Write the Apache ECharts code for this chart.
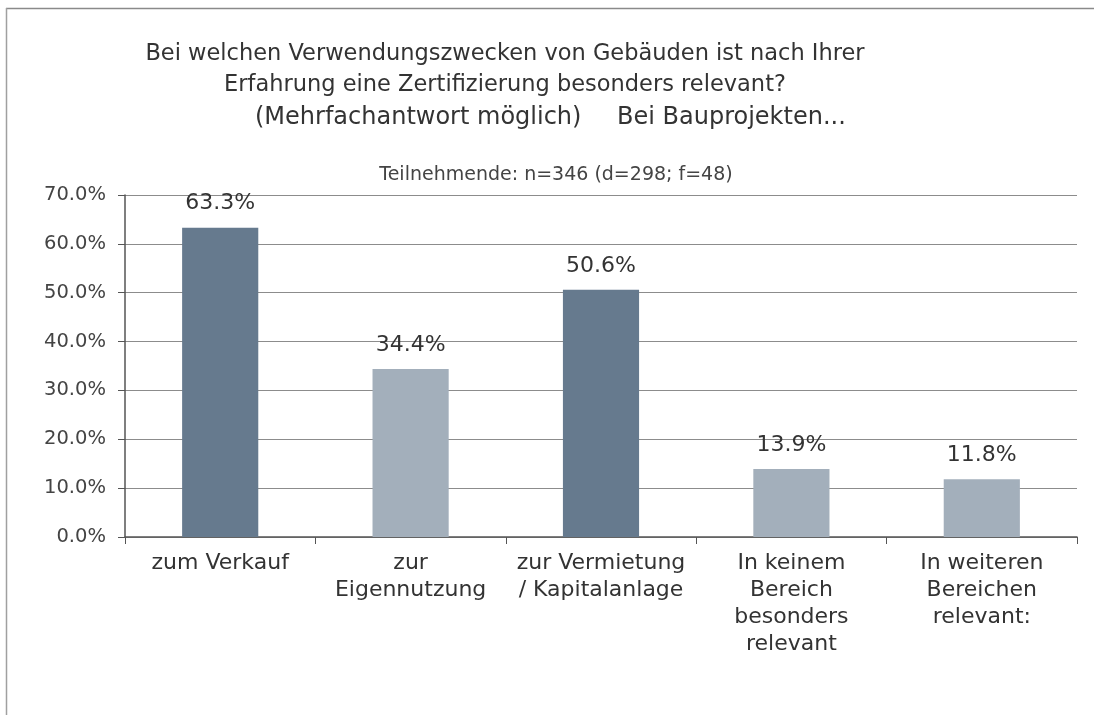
<!DOCTYPE html>
<html>
<head>
<meta charset="utf-8">
<script src="https://cdn.jsdelivr.net/npm/echarts@6/dist/echarts.min.js"></script>
<style>
html,body{margin:0;padding:0;background:#fff;}
#chart{width:1094px;height:715px;}
</style>
</head>
<body>
<div id="chart"></div>
<script>
const categories = ["zum Verkauf", "zur\nEigennutzung", "zur Vermietung\n/ Kapitalanlage", "In keinem\nBereich\nbesonders\nrelevant", "In weiteren\nBereichen\nrelevant:"];
const values = [63.3, 34.4, 50.6, 13.9, 11.8];
const barColors = ["#667a8e", "#a3afbb", "#667a8e", "#a3afbb", "#a3afbb"];
const titleLines = ["Bei welchen Verwendungszwecken von Gebäuden ist nach Ihrer", "Erfahrung eine Zertifizierung besonders relevant?"];
const titleLine3a = "(Mehrfachantwort möglich)";
const titleLine3b = "Bei Bauprojekten...";
const subtitle = "Teilnehmende: n=346 (d=298; f=48)";

const FONT = "DejaVu Sans";
const titleStyle = {fontFamily: FONT, fontSize: 22.5, fontWeight: 'normal', color: '#333', lineHeight: 31};
const titleStyle3 = {fontFamily: FONT, fontSize: 24, fontWeight: 'normal', color: '#333', lineHeight: 31};
const chart = echarts.init(document.getElementById('chart'), null, {renderer: 'canvas'});
chart.setOption({
  backgroundColor: '#ffffff',
  animation: false,
  title: [
    {text: titleLines.join('\n'), left: 500, top: 34, textAlign: 'center', textStyle: titleStyle},
    {text: titleLine3a, left: 250, top: 97, textStyle: titleStyle3},
    {text: titleLine3b, left: 612, top: 97, textStyle: titleStyle3},
    {text: subtitle, left: 551, top: 161, textAlign: 'center',
     textStyle: {fontFamily: FONT, fontSize: 19, fontWeight: 'normal', color: '#444'}}
  ],
  graphic: [
    {type: 'line', shape: {x1: 6, y1: 8.5, x2: 1094, y2: 8.5}, style: {stroke: '#8a8a8a', lineWidth: 1.5}},
    {type: 'line', shape: {x1: 6.5, y1: 8, x2: 6.5, y2: 715}, style: {stroke: '#a0a0a0', lineWidth: 1.5}}
  ],
  grid: {left: 125, right: 17, top: 195, bottom: 178, containLabel: false},
  xAxis: {
    type: 'category', data: categories,
    axisLine: {lineStyle: {color: '#555', width: 1.5}},
    axisTick: {show: true, length: 7, lineStyle: {color: '#555'}},
    axisLabel: {fontFamily: FONT, fontSize: 22, color: '#333', lineHeight: 27, margin: 13, interval: 0}
  },
  yAxis: {
    type: 'value', min: 0, max: 70, interval: 10,
    axisLine: {show: true, lineStyle: {color: '#555', width: 1.5}},
    axisTick: {show: true, length: 7, lineStyle: {color: '#555'}},
    splitLine: {lineStyle: {color: '#8c8c8c', width: 1.2}},
    axisLabel: {fontFamily: FONT, fontSize: 19.5, color: '#444', margin: 19, formatter: v => v.toFixed(1) + '%'}
  },
  series: [{
    type: 'bar', barWidth: '40%',
    data: values.map((v, i) => ({value: v, itemStyle: {color: barColors[i]}})),
    label: {show: true, position: 'top', distance: 13, fontFamily: FONT, fontSize: 22, color: '#333',
            formatter: p => p.value.toFixed(1) + '%'}
  }]
});
</script>
</body>
</html>
